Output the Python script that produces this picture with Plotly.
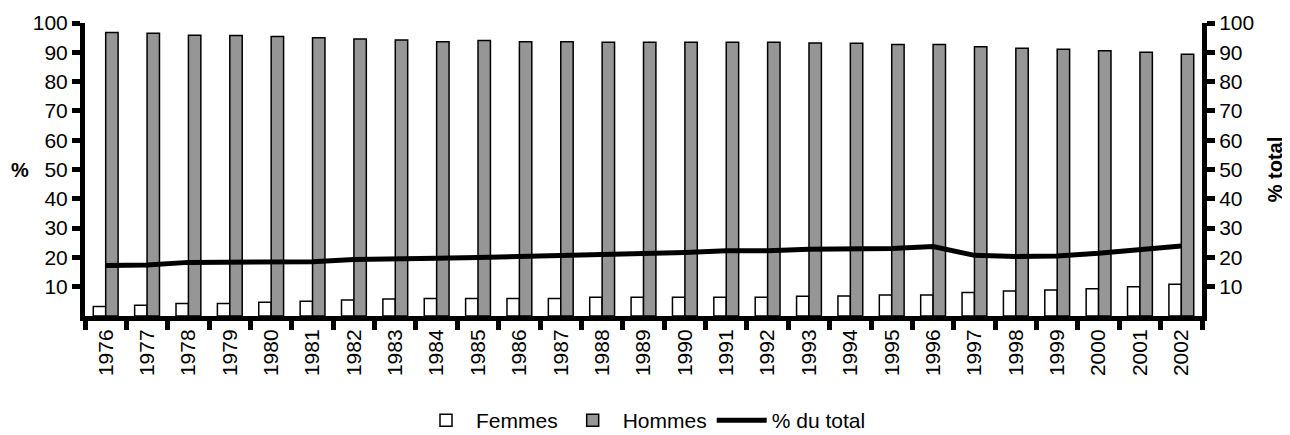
import plotly.graph_objects as go

years = [str(y) for y in range(1976, 2003)]
femmes = [3.2, 3.7, 4.3, 4.3, 4.7, 5.0, 5.5, 5.8, 6.0, 6.0, 6.0, 6.0, 6.4, 6.4, 6.4,
          6.4, 6.4, 6.7, 6.8, 7.2, 7.2, 8.0, 8.5, 8.9, 9.3, 10.0, 10.8]
hommes = [96.8, 96.5, 95.8, 95.7, 95.4, 95.0, 94.5, 94.2, 93.6, 94.0, 93.6, 93.6, 93.4, 93.4, 93.4,
          93.4, 93.4, 93.2, 93.1, 92.7, 92.7, 91.9, 91.4, 91.0, 90.5, 90.0, 89.3]
pct_total = [17.2, 17.4, 18.3, 18.3, 18.5, 18.5, 19.3, 19.7, 19.7, 20.0, 20.3, 20.6, 20.8, 21.2, 21.7,
             22.3, 22.3, 22.8, 23.0, 23.0, 23.7, 20.7, 20.3, 20.5, 21.4, 22.5, 23.9]
yticks = [10, 20, 30, 40, 50, 60, 70, 80, 90, 100]

FONT = "Liberation Sans, Arial, sans-serif"

fig = go.Figure()
fig.add_trace(go.Bar(x=years, y=femmes, name="Femmes",
                     marker=dict(color="white", line=dict(color="black", width=1.5))))
fig.add_trace(go.Bar(x=years, y=hommes, name="Hommes",
                     marker=dict(color="#969696", line=dict(color="black", width=1.5))))
fig.add_trace(go.Scatter(x=years, y=pct_total, name="% du total", yaxis="y2", mode="lines",
                         line=dict(color="black", width=5)))

axis_common = dict(range=[0, 100], tickvals=yticks, showgrid=False, zeroline=False,
                   showline=True, linecolor="black", linewidth=5, automargin=False,
                   ticks="outside", ticklen=8, tickwidth=5, tickcolor="black",
                   tickfont=dict(family=FONT, size=21, color="black"))

fig.update_layout(
    width=1282, height=433,
    margin=dict(l=77, r=88, t=15, b=125, autoexpand=False),
    plot_bgcolor="white", paper_bgcolor="white",
    barmode="group", bargap=0.4, bargroupgap=0,
    font=dict(family=FONT, size=21, color="black"),
    xaxis=dict(type="category", tickangle=-90, showgrid=False, showline=True,
               linecolor="black", linewidth=5, ticks="outside", ticklen=9, tickwidth=5,
               tickcolor="black", tickson="boundaries", automargin=False,
               tickfont=dict(family=FONT, size=21, color="black")),
    yaxis=dict(**axis_common),
    yaxis2=dict(**axis_common, overlaying="y", side="right",
                title=dict(text="<b>% total</b>", standoff=16,
                           font=dict(family=FONT, size=20, color="black"))),
    legend=dict(orientation="h", x=0.5, xanchor="center", y=0.0, yanchor="bottom",
                yref="container", font=dict(family=FONT, size=21, color="black"),
                itemwidth=50, tracegroupgap=0),
    showlegend=True,
    annotations=[
        dict(text="<b>%</b>", xref="paper", yref="paper", x=0, xshift=-65, y=0.5,
             xanchor="center", yanchor="middle", showarrow=False,
             font=dict(family=FONT, size=20, color="black")),
    ],
)

fig.write_html("out.html")
